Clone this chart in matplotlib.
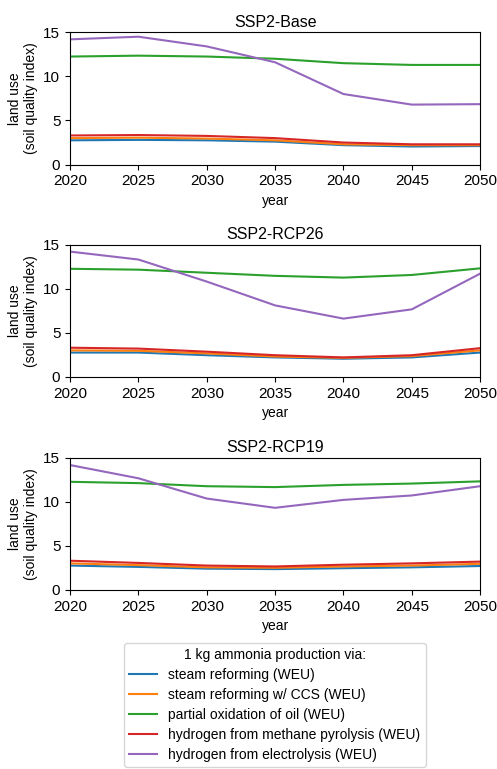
import matplotlib
matplotlib.use("Agg")
import matplotlib.pyplot as plt

plt.rcParams['font.family'] = ['Liberation Sans', 'DejaVu Sans']

years = [2020, 2025, 2030, 2035, 2040, 2045, 2050]
scenarios = ['SSP2-Base', 'SSP2-RCP26', 'SSP2-RCP19']
labels = ['steam reforming (WEU)',
          'steam reforming w/ CCS (WEU)',
          'partial oxidation of oil (WEU)',
          'hydrogen from methane pyrolysis (WEU)',
          'hydrogen from electrolysis (WEU)']
colors = ['#1f77b4', '#ff7f0e', '#2ca02c', '#d62728', '#9467bd']

# land use per scenario, one list per route (same order as labels)
base = [
    [2.75, 2.8, 2.75, 2.6, 2.2, 2.05, 2.1],
    [3.0, 3.05, 2.95, 2.75, 2.3, 2.2, 2.2],
    [12.25, 12.35, 12.25, 12.0, 11.5, 11.3, 11.3],
    [3.3, 3.35, 3.25, 3.0, 2.5, 2.3, 2.3],
    [14.2, 14.5, 13.4, 11.6, 8.0, 6.8, 6.85],
]
rcp26 = [
    [2.75, 2.75, 2.45, 2.2, 2.05, 2.2, 2.75],
    [3.0, 2.95, 2.65, 2.3, 2.15, 2.35, 3.0],
    [12.25, 12.15, 11.8, 11.45, 11.25, 11.55, 12.3],
    [3.3, 3.2, 2.85, 2.45, 2.2, 2.45, 3.25],
    [14.2, 13.3, 10.8, 8.1, 6.6, 7.65, 11.7],
]
rcp19 = [
    [2.75, 2.6, 2.4, 2.35, 2.45, 2.55, 2.7],
    [3.0, 2.8, 2.55, 2.5, 2.65, 2.75, 2.95],
    [12.25, 12.1, 11.75, 11.65, 11.9, 12.05, 12.3],
    [3.3, 3.05, 2.75, 2.65, 2.85, 3.0, 3.2],
    [14.15, 12.65, 10.35, 9.3, 10.2, 10.7, 11.75],
]
data = [base, rcp26, rcp19]

fig = plt.figure(figsize=(4.97, 7.69), dpi=100)
tops = [0.958, 0.682, 0.405]
h = 0.172

for i in range(3):
    ax = fig.add_axes([0.141, tops[i] - h, 0.825, h])
    for j in range(5):
        ax.plot(years, data[i][j], color=colors[j], lw=1.5, label=labels[j])
    ax.set_xlim(2020, 2050)
    ax.set_ylim(0, 15)
    ax.set_xticks(years)
    ax.set_yticks([0, 5, 10, 15])
    ax.tick_params(labelsize=11)
    ax.set_title(scenarios[i], fontsize=11.5, pad=4)
    ax.set_xlabel('year', fontsize=10)
    ax.set_ylabel('land use\n(soil quality index)', fontsize=10)
    if i == 0:
        handles, labs = ax.get_legend_handles_labels()

fig.legend(handles, labs, loc='upper center', bbox_to_anchor=(0.553, 0.164),
           borderaxespad=0, title='1 kg ammonia production via:',
           fontsize=10, title_fontsize=10, labelspacing=0.42,
           frameon=True)

fig.savefig('out.png', dpi=100)
